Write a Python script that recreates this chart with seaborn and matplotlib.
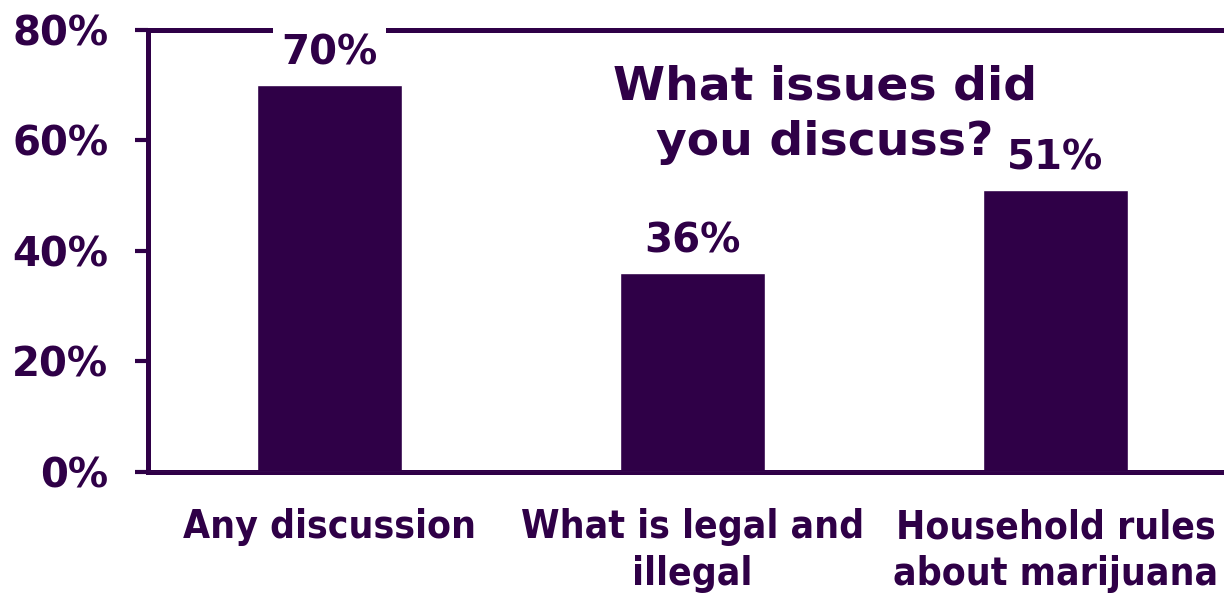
import matplotlib
matplotlib.use("Agg")
import matplotlib.pyplot as plt
import seaborn as sns
import pandas as pd

categories = ["Any discussion", "What is legal and\nillegal", "Household rules\nabout marijuana"]
values = [70, 36, 51]
value_labels = ["70%", "36%", "51%"]
yticks = [0, 20, 40, 60, 80]
ytick_labels = ["0%", "20%", "40%", "60%", "80%"]
title_lines = ["What issues did", "you discuss?"]

purple = "#2F0047"

sns.set_style("white")
plt.rcParams["font.family"] = ["DejaVu Sans"]
plt.rcParams["font.weight"] = "bold"

df = pd.DataFrame({"issue": categories, "pct": values})

fig = plt.figure(figsize=(12.24, 5.94), dpi=100)
ax = fig.add_axes([148 / 1224, 122 / 594, 363 * 3 / 1224, 442 / 594])

sns.barplot(data=df, x="issue", y="pct", color=purple, saturation=1, width=0.4, ax=ax)

ax.set_ylim(0, 80)
ax.set_xlim(-0.5, 2.5)
ax.set_yticks(yticks)
ax.set_yticklabels(ytick_labels, fontsize=29, fontweight="bold", color=purple)
ax.set_xticks(range(len(categories)))
ax.set_xticklabels(categories, fontsize=28, fontweight="bold", color=purple,
                   fontstretch="condensed", linespacing=1.3)
ax.set_xlabel("")
ax.set_ylabel("")

ax.tick_params(axis="y", length=9.5, width=3, color=purple, pad=19, direction="out", left=True)
ax.tick_params(axis="x", length=0, pad=26)

for side in ["left", "top", "bottom"]:
    ax.spines[side].set_color(purple)
    ax.spines[side].set_linewidth(3.6)
ax.spines["right"].set_visible(False)
ax.axhline(0, color="#8a8090", lw=0.8, zorder=3)

for i, (v, lab) in enumerate(zip(values, value_labels)):
    # the first label sits on the top frame line and blanks it out
    box = dict(facecolor="white", edgecolor="none", pad=6) if i == 0 else None
    ax.annotate(lab, (i, v), xytext=(0, 15), textcoords="offset points",
                ha="center", va="baseline", fontsize=29, fontweight="bold", color=purple,
                bbox=box, zorder=5, annotation_clip=False)

# title drawn line by line so the second line stays clear of the 51% label
for line, base_y in zip(title_lines, [100, 155]):
    fig.text(825 / 1224, 1 - base_y / 594, line, ha="center", va="baseline",
             fontsize=34, fontweight="bold", color=purple)

fig.savefig("out.png", dpi=100)
